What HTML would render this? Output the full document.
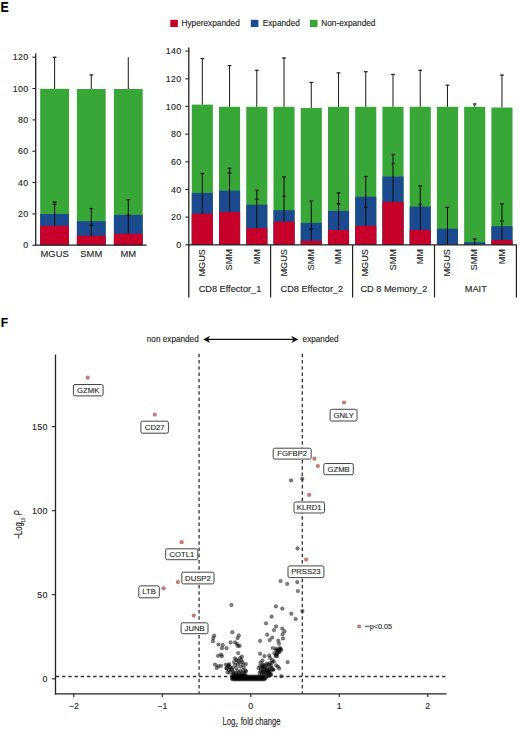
<!DOCTYPE html>
<html><head><meta charset="utf-8"><style>
html,body{margin:0;padding:0;background:#fff;}
svg{display:block;font-family:"Liberation Sans", sans-serif;}
text{stroke:#222;stroke-width:0.12px;}
</style></head><body>
<svg width="520" height="731" viewBox="0 0 520 731">
<rect width="520" height="731" fill="#fff"/>
<text transform="translate(0.55,11.85) scale(0.84,1)" font-size="14.7" font-weight="bold" fill="#000">E</text>
<rect x="170.3" y="19.8" width="7.6" height="7.2" fill="#c6002a"/>
<text x="181.5" y="26" font-size="8.25" fill="#222">Hyperexpanded</text>
<rect x="250.8" y="19.8" width="7.6" height="7.2" fill="#1b4a8f"/>
<text x="262.7" y="26" font-size="8.25" fill="#222">Expanded</text>
<rect x="309.9" y="19.8" width="7.6" height="7.2" fill="#39a638"/>
<text x="321.3" y="26" font-size="8.25" fill="#222">Non-expanded</text>
<rect x="40.20" y="88.8" width="28.8" height="156.40" fill="#39a638"/>
<rect x="40.20" y="214.0" width="28.8" height="31.20" fill="#1b4a8f"/>
<rect x="40.20" y="225.8" width="28.8" height="19.40" fill="#c6002a"/>
<line x1="54.6" y1="88.8" x2="54.6" y2="56.8" stroke="#222" stroke-width="1.05"/>
<line x1="52.70" y1="57.30" x2="56.50" y2="57.30" stroke="#222" stroke-width="1.2"/>
<line x1="54.6" y1="225.8" x2="54.6" y2="201.5" stroke="#111" stroke-width="1.05"/>
<line x1="52.70" y1="202.00" x2="56.50" y2="202.00" stroke="#111" stroke-width="1.2"/>
<line x1="52.70" y1="204.30" x2="56.50" y2="204.30" stroke="#111" stroke-width="1.2"/>
<rect x="76.90" y="89.0" width="28.8" height="156.20" fill="#39a638"/>
<rect x="76.90" y="221.2" width="28.8" height="24.00" fill="#1b4a8f"/>
<rect x="76.90" y="235.7" width="28.8" height="9.50" fill="#c6002a"/>
<line x1="91.3" y1="89.0" x2="91.3" y2="74.4" stroke="#222" stroke-width="1.05"/>
<line x1="89.40" y1="74.90" x2="93.20" y2="74.90" stroke="#222" stroke-width="1.2"/>
<line x1="91.3" y1="235.7" x2="91.3" y2="208.0" stroke="#111" stroke-width="1.05"/>
<line x1="89.40" y1="208.50" x2="93.20" y2="208.50" stroke="#111" stroke-width="1.2"/>
<line x1="89.40" y1="225.10" x2="93.20" y2="225.10" stroke="#111" stroke-width="1.2"/>
<rect x="113.90" y="89.0" width="28.8" height="156.20" fill="#39a638"/>
<rect x="113.90" y="214.9" width="28.8" height="30.30" fill="#1b4a8f"/>
<rect x="113.90" y="233.8" width="28.8" height="11.40" fill="#c6002a"/>
<line x1="128.3" y1="89.0" x2="128.3" y2="57.3" stroke="#222" stroke-width="1.05"/>
<line x1="128.3" y1="233.8" x2="128.3" y2="199.2" stroke="#111" stroke-width="1.05"/>
<line x1="126.40" y1="199.70" x2="130.20" y2="199.70" stroke="#111" stroke-width="1.2"/>
<line x1="126.40" y1="215.20" x2="130.20" y2="215.20" stroke="#111" stroke-width="1.2"/>
<line x1="35.7" y1="53.6" x2="35.7" y2="245.8" stroke="#222" stroke-width="1.3"/>
<line x1="35.1" y1="245.2" x2="146.6" y2="245.2" stroke="#222" stroke-width="1.3"/>
<line x1="32.4" y1="245.2" x2="35.7" y2="245.2" stroke="#222" stroke-width="1.1"/>
<text x="28.6" y="248.3" font-size="8.9" letter-spacing="0.35" fill="#222" text-anchor="end">0</text>
<line x1="32.4" y1="213.9" x2="35.7" y2="213.9" stroke="#222" stroke-width="1.1"/>
<text x="28.6" y="217.0" font-size="8.9" letter-spacing="0.35" fill="#222" text-anchor="end">20</text>
<line x1="32.4" y1="182.5" x2="35.7" y2="182.5" stroke="#222" stroke-width="1.1"/>
<text x="28.6" y="185.6" font-size="8.9" letter-spacing="0.35" fill="#222" text-anchor="end">40</text>
<line x1="32.4" y1="151.2" x2="35.7" y2="151.2" stroke="#222" stroke-width="1.1"/>
<text x="28.6" y="154.3" font-size="8.9" letter-spacing="0.35" fill="#222" text-anchor="end">60</text>
<line x1="32.4" y1="119.9" x2="35.7" y2="119.9" stroke="#222" stroke-width="1.1"/>
<text x="28.6" y="123.0" font-size="8.9" letter-spacing="0.35" fill="#222" text-anchor="end">80</text>
<line x1="32.4" y1="88.5" x2="35.7" y2="88.5" stroke="#222" stroke-width="1.1"/>
<text x="28.6" y="91.6" font-size="8.9" letter-spacing="0.35" fill="#222" text-anchor="end">100</text>
<line x1="32.4" y1="57.2" x2="35.7" y2="57.2" stroke="#222" stroke-width="1.1"/>
<text x="28.6" y="60.3" font-size="8.9" letter-spacing="0.35" fill="#222" text-anchor="end">120</text>
<text x="54.6" y="257.2" font-size="9.4" fill="#222" text-anchor="middle">MGUS</text>
<text x="91.3" y="257.2" font-size="9.4" fill="#222" text-anchor="middle">SMM</text>
<text x="128.3" y="257.2" font-size="9.4" fill="#222" text-anchor="middle">MM</text>
<rect x="191.76" y="104.6" width="21.1" height="140.20" fill="#39a638"/>
<rect x="191.76" y="192.9" width="21.1" height="51.90" fill="#1b4a8f"/>
<rect x="191.76" y="213.7" width="21.1" height="31.10" fill="#c6002a"/>
<line x1="202.31" y1="104.6" x2="202.31" y2="58.0" stroke="#222" stroke-width="1.05"/>
<line x1="200.41" y1="58.50" x2="204.21" y2="58.50" stroke="#222" stroke-width="1.2"/>
<line x1="202.31" y1="213.7" x2="202.31" y2="173.0" stroke="#111" stroke-width="1.05"/>
<line x1="200.41" y1="173.50" x2="204.21" y2="173.50" stroke="#111" stroke-width="1.2"/>
<rect x="219.00" y="106.8" width="21.1" height="138.00" fill="#39a638"/>
<rect x="219.00" y="190.7" width="21.1" height="54.10" fill="#1b4a8f"/>
<rect x="219.00" y="212.0" width="21.1" height="32.80" fill="#c6002a"/>
<line x1="229.55" y1="106.8" x2="229.55" y2="65.1" stroke="#222" stroke-width="1.05"/>
<line x1="227.65" y1="65.60" x2="231.45" y2="65.60" stroke="#222" stroke-width="1.2"/>
<line x1="229.55" y1="212.0" x2="229.55" y2="167.8" stroke="#111" stroke-width="1.05"/>
<line x1="227.65" y1="168.30" x2="231.45" y2="168.30" stroke="#111" stroke-width="1.2"/>
<line x1="227.65" y1="173.00" x2="231.45" y2="173.00" stroke="#111" stroke-width="1.2"/>
<rect x="246.24" y="106.8" width="21.1" height="138.00" fill="#39a638"/>
<rect x="246.24" y="204.7" width="21.1" height="40.10" fill="#1b4a8f"/>
<rect x="246.24" y="228.2" width="21.1" height="16.60" fill="#c6002a"/>
<line x1="256.79" y1="106.8" x2="256.79" y2="69.8" stroke="#222" stroke-width="1.05"/>
<line x1="254.89" y1="70.30" x2="258.69" y2="70.30" stroke="#222" stroke-width="1.2"/>
<line x1="256.79" y1="228.2" x2="256.79" y2="189.8" stroke="#111" stroke-width="1.05"/>
<line x1="254.89" y1="190.30" x2="258.69" y2="190.30" stroke="#111" stroke-width="1.2"/>
<line x1="254.89" y1="199.30" x2="258.69" y2="199.30" stroke="#111" stroke-width="1.2"/>
<rect x="273.48" y="106.8" width="21.1" height="138.00" fill="#39a638"/>
<rect x="273.48" y="210.2" width="21.1" height="34.60" fill="#1b4a8f"/>
<rect x="273.48" y="221.6" width="21.1" height="23.20" fill="#c6002a"/>
<line x1="284.03" y1="106.8" x2="284.03" y2="57.5" stroke="#222" stroke-width="1.05"/>
<line x1="282.13" y1="58.00" x2="285.93" y2="58.00" stroke="#222" stroke-width="1.2"/>
<line x1="284.03" y1="221.6" x2="284.03" y2="176.5" stroke="#111" stroke-width="1.05"/>
<line x1="282.13" y1="177.00" x2="285.93" y2="177.00" stroke="#111" stroke-width="1.2"/>
<line x1="282.13" y1="196.40" x2="285.93" y2="196.40" stroke="#111" stroke-width="1.2"/>
<rect x="300.72" y="108.0" width="21.1" height="136.80" fill="#39a638"/>
<rect x="300.72" y="222.9" width="21.1" height="21.90" fill="#1b4a8f"/>
<rect x="300.72" y="240.7" width="21.1" height="4.10" fill="#c6002a"/>
<line x1="311.27" y1="108.0" x2="311.27" y2="81.9" stroke="#222" stroke-width="1.05"/>
<line x1="309.37" y1="82.40" x2="313.17" y2="82.40" stroke="#222" stroke-width="1.2"/>
<line x1="311.27" y1="240.7" x2="311.27" y2="200.7" stroke="#111" stroke-width="1.05"/>
<line x1="309.37" y1="201.20" x2="313.17" y2="201.20" stroke="#111" stroke-width="1.2"/>
<line x1="309.37" y1="229.20" x2="313.17" y2="229.20" stroke="#111" stroke-width="1.2"/>
<rect x="327.96" y="106.8" width="21.1" height="138.00" fill="#39a638"/>
<rect x="327.96" y="210.9" width="21.1" height="33.90" fill="#1b4a8f"/>
<rect x="327.96" y="230.0" width="21.1" height="14.80" fill="#c6002a"/>
<line x1="338.51" y1="106.8" x2="338.51" y2="72.4" stroke="#222" stroke-width="1.05"/>
<line x1="336.61" y1="72.90" x2="340.41" y2="72.90" stroke="#222" stroke-width="1.2"/>
<line x1="338.51" y1="230.0" x2="338.51" y2="192.4" stroke="#111" stroke-width="1.05"/>
<line x1="336.61" y1="192.90" x2="340.41" y2="192.90" stroke="#111" stroke-width="1.2"/>
<line x1="336.61" y1="203.80" x2="340.41" y2="203.80" stroke="#111" stroke-width="1.2"/>
<rect x="355.20" y="106.8" width="21.1" height="138.00" fill="#39a638"/>
<rect x="355.20" y="196.7" width="21.1" height="48.10" fill="#1b4a8f"/>
<rect x="355.20" y="225.8" width="21.1" height="19.00" fill="#c6002a"/>
<line x1="365.75" y1="106.8" x2="365.75" y2="71.2" stroke="#222" stroke-width="1.05"/>
<line x1="363.85" y1="71.70" x2="367.65" y2="71.70" stroke="#222" stroke-width="1.2"/>
<line x1="365.75" y1="225.8" x2="365.75" y2="176.0" stroke="#111" stroke-width="1.05"/>
<line x1="363.85" y1="176.50" x2="367.65" y2="176.50" stroke="#111" stroke-width="1.2"/>
<line x1="363.85" y1="207.10" x2="367.65" y2="207.10" stroke="#111" stroke-width="1.2"/>
<rect x="382.44" y="106.8" width="21.1" height="138.00" fill="#39a638"/>
<rect x="382.44" y="176.5" width="21.1" height="68.30" fill="#1b4a8f"/>
<rect x="382.44" y="201.9" width="21.1" height="42.90" fill="#c6002a"/>
<line x1="392.99" y1="106.8" x2="392.99" y2="73.9" stroke="#222" stroke-width="1.05"/>
<line x1="391.09" y1="74.40" x2="394.89" y2="74.40" stroke="#222" stroke-width="1.2"/>
<line x1="392.99" y1="201.9" x2="392.99" y2="154.0" stroke="#111" stroke-width="1.05"/>
<line x1="391.09" y1="154.50" x2="394.89" y2="154.50" stroke="#111" stroke-width="1.2"/>
<line x1="391.09" y1="163.50" x2="394.89" y2="163.50" stroke="#111" stroke-width="1.2"/>
<rect x="409.68" y="106.8" width="21.1" height="138.00" fill="#39a638"/>
<rect x="409.68" y="206.6" width="21.1" height="38.20" fill="#1b4a8f"/>
<rect x="409.68" y="230.0" width="21.1" height="14.80" fill="#c6002a"/>
<line x1="420.23" y1="106.8" x2="420.23" y2="69.8" stroke="#222" stroke-width="1.05"/>
<line x1="418.33" y1="70.30" x2="422.13" y2="70.30" stroke="#222" stroke-width="1.2"/>
<line x1="420.23" y1="230.0" x2="420.23" y2="185.5" stroke="#111" stroke-width="1.05"/>
<line x1="418.33" y1="186.00" x2="422.13" y2="186.00" stroke="#111" stroke-width="1.2"/>
<line x1="418.33" y1="204.50" x2="422.13" y2="204.50" stroke="#111" stroke-width="1.2"/>
<rect x="436.92" y="106.8" width="21.1" height="138.00" fill="#39a638"/>
<rect x="436.92" y="228.7" width="21.1" height="16.10" fill="#1b4a8f"/>
<rect x="436.92" y="244.3" width="21.1" height="0.50" fill="#c6002a"/>
<line x1="447.47" y1="106.8" x2="447.47" y2="84.7" stroke="#222" stroke-width="1.05"/>
<line x1="445.57" y1="85.20" x2="449.37" y2="85.20" stroke="#222" stroke-width="1.2"/>
<line x1="447.47" y1="244.3" x2="447.47" y2="206.8" stroke="#111" stroke-width="1.05"/>
<line x1="445.57" y1="207.30" x2="449.37" y2="207.30" stroke="#111" stroke-width="1.2"/>
<rect x="464.16" y="106.8" width="21.1" height="138.00" fill="#39a638"/>
<rect x="464.16" y="242.2" width="21.1" height="2.60" fill="#1b4a8f"/>
<line x1="474.71" y1="106.8" x2="474.71" y2="103.5" stroke="#222" stroke-width="1.05"/>
<line x1="472.81" y1="104.00" x2="476.61" y2="104.00" stroke="#222" stroke-width="1.2"/>
<line x1="474.71" y1="244.8" x2="474.71" y2="238.3" stroke="#111" stroke-width="1.05"/>
<line x1="472.81" y1="238.80" x2="476.61" y2="238.80" stroke="#111" stroke-width="1.2"/>
<rect x="491.40" y="107.5" width="21.1" height="137.30" fill="#39a638"/>
<rect x="491.40" y="226.2" width="21.1" height="18.60" fill="#1b4a8f"/>
<rect x="491.40" y="240.1" width="21.1" height="4.70" fill="#c6002a"/>
<line x1="501.95" y1="107.5" x2="501.95" y2="74.6" stroke="#222" stroke-width="1.05"/>
<line x1="500.05" y1="75.10" x2="503.85" y2="75.10" stroke="#222" stroke-width="1.2"/>
<line x1="501.95" y1="240.1" x2="501.95" y2="203.3" stroke="#111" stroke-width="1.05"/>
<line x1="500.05" y1="203.80" x2="503.85" y2="203.80" stroke="#111" stroke-width="1.2"/>
<line x1="500.05" y1="221.10" x2="503.85" y2="221.10" stroke="#111" stroke-width="1.2"/>
<line x1="188.8" y1="47.6" x2="188.8" y2="297.4" stroke="#222" stroke-width="1.3"/>
<line x1="188.2" y1="244.8" x2="516.6" y2="244.8" stroke="#222" stroke-width="1.3"/>
<line x1="270.6" y1="244.8" x2="270.6" y2="297.4" stroke="#222" stroke-width="1.2"/>
<line x1="352.6" y1="244.8" x2="352.6" y2="297.4" stroke="#222" stroke-width="1.2"/>
<line x1="434.5" y1="244.8" x2="434.5" y2="297.4" stroke="#222" stroke-width="1.2"/>
<line x1="516.4" y1="244.8" x2="516.4" y2="297.4" stroke="#222" stroke-width="1.2"/>
<line x1="185.4" y1="244.8" x2="188.8" y2="244.8" stroke="#222" stroke-width="1.1"/>
<text x="181.6" y="247.9" font-size="8.9" letter-spacing="0.35" fill="#222" text-anchor="end">0</text>
<line x1="185.4" y1="217.1" x2="188.8" y2="217.1" stroke="#222" stroke-width="1.1"/>
<text x="181.6" y="220.2" font-size="8.9" letter-spacing="0.35" fill="#222" text-anchor="end">20</text>
<line x1="185.4" y1="189.5" x2="188.8" y2="189.5" stroke="#222" stroke-width="1.1"/>
<text x="181.6" y="192.6" font-size="8.9" letter-spacing="0.35" fill="#222" text-anchor="end">40</text>
<line x1="185.4" y1="161.8" x2="188.8" y2="161.8" stroke="#222" stroke-width="1.1"/>
<text x="181.6" y="164.9" font-size="8.9" letter-spacing="0.35" fill="#222" text-anchor="end">60</text>
<line x1="185.4" y1="134.1" x2="188.8" y2="134.1" stroke="#222" stroke-width="1.1"/>
<text x="181.6" y="137.2" font-size="8.9" letter-spacing="0.35" fill="#222" text-anchor="end">80</text>
<line x1="185.4" y1="106.4" x2="188.8" y2="106.4" stroke="#222" stroke-width="1.1"/>
<text x="181.6" y="109.5" font-size="8.9" letter-spacing="0.35" fill="#222" text-anchor="end">100</text>
<line x1="185.4" y1="78.8" x2="188.8" y2="78.8" stroke="#222" stroke-width="1.1"/>
<text x="181.6" y="81.9" font-size="8.9" letter-spacing="0.35" fill="#222" text-anchor="end">120</text>
<line x1="185.4" y1="51.1" x2="188.8" y2="51.1" stroke="#222" stroke-width="1.1"/>
<text x="181.6" y="54.2" font-size="8.9" letter-spacing="0.35" fill="#222" text-anchor="end">140</text>
<text transform="translate(205.0,249) rotate(-90)" x="0" y="0" font-size="9.2" fill="#222" text-anchor="end">MGUS</text>
<text transform="translate(232.2,249) rotate(-90)" x="0" y="0" font-size="9.2" fill="#222" text-anchor="end">SMM</text>
<text transform="translate(259.5,249) rotate(-90)" x="0" y="0" font-size="9.2" fill="#222" text-anchor="end">MM</text>
<text transform="translate(286.7,249) rotate(-90)" x="0" y="0" font-size="9.2" fill="#222" text-anchor="end">MGUS</text>
<text transform="translate(314.0,249) rotate(-90)" x="0" y="0" font-size="9.2" fill="#222" text-anchor="end">SMM</text>
<text transform="translate(341.2,249) rotate(-90)" x="0" y="0" font-size="9.2" fill="#222" text-anchor="end">MM</text>
<text transform="translate(368.4,249) rotate(-90)" x="0" y="0" font-size="9.2" fill="#222" text-anchor="end">MGUS</text>
<text transform="translate(395.7,249) rotate(-90)" x="0" y="0" font-size="9.2" fill="#222" text-anchor="end">SMM</text>
<text transform="translate(422.9,249) rotate(-90)" x="0" y="0" font-size="9.2" fill="#222" text-anchor="end">MM</text>
<text transform="translate(450.2,249) rotate(-90)" x="0" y="0" font-size="9.2" fill="#222" text-anchor="end">MGUS</text>
<text transform="translate(477.4,249) rotate(-90)" x="0" y="0" font-size="9.2" fill="#222" text-anchor="end">SMM</text>
<text transform="translate(504.6,249) rotate(-90)" x="0" y="0" font-size="9.2" fill="#222" text-anchor="end">MM</text>
<text x="230.0" y="292" font-size="9.2" fill="#222" text-anchor="middle">CD8 Effector_1</text>
<text x="311.9" y="292" font-size="9.2" fill="#222" text-anchor="middle">CD8 Effector_2</text>
<text x="393.9" y="292" font-size="9.2" fill="#222" text-anchor="middle">CD 8 Memory_2</text>
<text x="475.8" y="292" font-size="9.2" fill="#222" text-anchor="middle">MAIT</text>
<text transform="translate(0.65,327.1) scale(0.90,1)" font-size="13.6" font-weight="bold" fill="#000">F</text>
<text x="146.8" y="341.8" font-size="8.2" fill="#222">non expanded</text>
<text x="302.6" y="341.8" font-size="8.2" fill="#222">expanded</text>
<line x1="206" y1="339.4" x2="295" y2="339.4" stroke="#111" stroke-width="1.2"/>
<path d="M203.1 339.4 L210.2 335.8 L208.0 339.4 L210.2 343.0 Z" fill="#111"/>
<path d="M298.3 339.4 L291.2 335.8 L293.4 339.4 L291.2 343.0 Z" fill="#111"/>
<line x1="199.1" y1="353.8" x2="199.1" y2="693.5" stroke="#333" stroke-width="1.3" stroke-dasharray="3.5 2.75"/>
<line x1="302.3" y1="353.8" x2="302.3" y2="693.5" stroke="#333" stroke-width="1.3" stroke-dasharray="3.5 2.75"/>
<line x1="55.8" y1="676.5" x2="446.3" y2="676.5" stroke="#333" stroke-width="1.3" stroke-dasharray="3.4 2.83"/>
<circle cx="291.1" cy="480.4" r="1.85" fill="#000" fill-opacity="0.5" stroke="#000" stroke-opacity="0.35" stroke-width="0.6"/>
<circle cx="302.2" cy="478.7" r="1.85" fill="#000" fill-opacity="0.5" stroke="#000" stroke-opacity="0.35" stroke-width="0.6"/>
<circle cx="297.5" cy="548.4" r="1.85" fill="#000" fill-opacity="0.5" stroke="#000" stroke-opacity="0.35" stroke-width="0.6"/>
<circle cx="280.6" cy="581.0" r="1.85" fill="#000" fill-opacity="0.5" stroke="#000" stroke-opacity="0.35" stroke-width="0.6"/>
<circle cx="287.2" cy="583.8" r="1.85" fill="#000" fill-opacity="0.5" stroke="#000" stroke-opacity="0.35" stroke-width="0.6"/>
<circle cx="297.3" cy="582.1" r="1.85" fill="#000" fill-opacity="0.5" stroke="#000" stroke-opacity="0.35" stroke-width="0.6"/>
<circle cx="297.9" cy="591.0" r="1.85" fill="#000" fill-opacity="0.5" stroke="#000" stroke-opacity="0.35" stroke-width="0.6"/>
<circle cx="231.4" cy="604.9" r="1.85" fill="#000" fill-opacity="0.5" stroke="#000" stroke-opacity="0.35" stroke-width="0.6"/>
<circle cx="232.3" cy="632.2" r="1.85" fill="#000" fill-opacity="0.5" stroke="#000" stroke-opacity="0.35" stroke-width="0.6"/>
<circle cx="214.2" cy="635.7" r="1.85" fill="#000" fill-opacity="0.5" stroke="#000" stroke-opacity="0.35" stroke-width="0.6"/>
<circle cx="213.3" cy="638.1" r="1.85" fill="#000" fill-opacity="0.5" stroke="#000" stroke-opacity="0.35" stroke-width="0.6"/>
<circle cx="212.9" cy="641.2" r="1.85" fill="#000" fill-opacity="0.5" stroke="#000" stroke-opacity="0.35" stroke-width="0.6"/>
<circle cx="238.8" cy="635.4" r="1.85" fill="#000" fill-opacity="0.5" stroke="#000" stroke-opacity="0.35" stroke-width="0.6"/>
<circle cx="237.6" cy="638.1" r="1.85" fill="#000" fill-opacity="0.5" stroke="#000" stroke-opacity="0.35" stroke-width="0.6"/>
<circle cx="230.6" cy="642.4" r="1.85" fill="#000" fill-opacity="0.5" stroke="#000" stroke-opacity="0.35" stroke-width="0.6"/>
<circle cx="235.1" cy="642.4" r="1.85" fill="#000" fill-opacity="0.5" stroke="#000" stroke-opacity="0.35" stroke-width="0.6"/>
<circle cx="237.0" cy="644.0" r="1.85" fill="#000" fill-opacity="0.5" stroke="#000" stroke-opacity="0.35" stroke-width="0.6"/>
<circle cx="239.7" cy="645.8" r="1.85" fill="#000" fill-opacity="0.5" stroke="#000" stroke-opacity="0.35" stroke-width="0.6"/>
<circle cx="218.5" cy="644.5" r="1.85" fill="#000" fill-opacity="0.5" stroke="#000" stroke-opacity="0.35" stroke-width="0.6"/>
<circle cx="222.8" cy="644.9" r="1.85" fill="#000" fill-opacity="0.5" stroke="#000" stroke-opacity="0.35" stroke-width="0.6"/>
<circle cx="221.9" cy="648.2" r="1.85" fill="#000" fill-opacity="0.5" stroke="#000" stroke-opacity="0.35" stroke-width="0.6"/>
<circle cx="226.5" cy="648.2" r="1.85" fill="#000" fill-opacity="0.5" stroke="#000" stroke-opacity="0.35" stroke-width="0.6"/>
<circle cx="238.2" cy="653.1" r="1.85" fill="#000" fill-opacity="0.5" stroke="#000" stroke-opacity="0.35" stroke-width="0.6"/>
<circle cx="275.9" cy="606.3" r="1.85" fill="#000" fill-opacity="0.5" stroke="#000" stroke-opacity="0.35" stroke-width="0.6"/>
<circle cx="282.3" cy="608.6" r="1.85" fill="#000" fill-opacity="0.5" stroke="#000" stroke-opacity="0.35" stroke-width="0.6"/>
<circle cx="291.3" cy="613.7" r="1.85" fill="#000" fill-opacity="0.5" stroke="#000" stroke-opacity="0.35" stroke-width="0.6"/>
<circle cx="295.6" cy="619.0" r="1.85" fill="#000" fill-opacity="0.5" stroke="#000" stroke-opacity="0.35" stroke-width="0.6"/>
<circle cx="302.4" cy="611.0" r="1.85" fill="#000" fill-opacity="0.5" stroke="#000" stroke-opacity="0.35" stroke-width="0.6"/>
<circle cx="271.6" cy="616.6" r="1.85" fill="#000" fill-opacity="0.5" stroke="#000" stroke-opacity="0.35" stroke-width="0.6"/>
<circle cx="266.0" cy="623.3" r="1.85" fill="#000" fill-opacity="0.5" stroke="#000" stroke-opacity="0.35" stroke-width="0.6"/>
<circle cx="276.1" cy="626.4" r="1.85" fill="#000" fill-opacity="0.5" stroke="#000" stroke-opacity="0.35" stroke-width="0.6"/>
<circle cx="274.0" cy="630.1" r="1.85" fill="#000" fill-opacity="0.5" stroke="#000" stroke-opacity="0.35" stroke-width="0.6"/>
<circle cx="282.3" cy="628.5" r="1.85" fill="#000" fill-opacity="0.5" stroke="#000" stroke-opacity="0.35" stroke-width="0.6"/>
<circle cx="284.5" cy="631.3" r="1.85" fill="#000" fill-opacity="0.5" stroke="#000" stroke-opacity="0.35" stroke-width="0.6"/>
<circle cx="282.6" cy="634.2" r="1.85" fill="#000" fill-opacity="0.5" stroke="#000" stroke-opacity="0.35" stroke-width="0.6"/>
<circle cx="267.2" cy="634.7" r="1.85" fill="#000" fill-opacity="0.5" stroke="#000" stroke-opacity="0.35" stroke-width="0.6"/>
<circle cx="272.2" cy="637.5" r="1.85" fill="#000" fill-opacity="0.5" stroke="#000" stroke-opacity="0.35" stroke-width="0.6"/>
<circle cx="269.7" cy="640.0" r="1.85" fill="#000" fill-opacity="0.5" stroke="#000" stroke-opacity="0.35" stroke-width="0.6"/>
<circle cx="278.3" cy="640.6" r="1.85" fill="#000" fill-opacity="0.5" stroke="#000" stroke-opacity="0.35" stroke-width="0.6"/>
<circle cx="283.0" cy="638.4" r="1.85" fill="#000" fill-opacity="0.5" stroke="#000" stroke-opacity="0.35" stroke-width="0.6"/>
<circle cx="279.0" cy="643.7" r="1.85" fill="#000" fill-opacity="0.5" stroke="#000" stroke-opacity="0.35" stroke-width="0.6"/>
<circle cx="260.1" cy="640.8" r="1.85" fill="#000" fill-opacity="0.5" stroke="#000" stroke-opacity="0.35" stroke-width="0.6"/>
<circle cx="287.6" cy="662.1" r="1.85" fill="#000" fill-opacity="0.5" stroke="#000" stroke-opacity="0.35" stroke-width="0.6"/>
<circle cx="237.9" cy="645.9" r="1.85" fill="#000" fill-opacity="0.5" stroke="#000" stroke-opacity="0.35" stroke-width="0.6"/>
<circle cx="218.0" cy="655.8" r="1.85" fill="#000" fill-opacity="0.5" stroke="#000" stroke-opacity="0.35" stroke-width="0.6"/>
<circle cx="221.0" cy="654.5" r="1.85" fill="#000" fill-opacity="0.5" stroke="#000" stroke-opacity="0.35" stroke-width="0.6"/>
<circle cx="221.9" cy="656.2" r="1.85" fill="#000" fill-opacity="0.5" stroke="#000" stroke-opacity="0.35" stroke-width="0.6"/>
<circle cx="234.9" cy="658.4" r="1.85" fill="#000" fill-opacity="0.5" stroke="#000" stroke-opacity="0.35" stroke-width="0.6"/>
<circle cx="240.0" cy="658.0" r="1.85" fill="#000" fill-opacity="0.5" stroke="#000" stroke-opacity="0.35" stroke-width="0.6"/>
<circle cx="241.8" cy="656.7" r="1.85" fill="#000" fill-opacity="0.5" stroke="#000" stroke-opacity="0.35" stroke-width="0.6"/>
<circle cx="241.3" cy="660.1" r="1.85" fill="#000" fill-opacity="0.5" stroke="#000" stroke-opacity="0.35" stroke-width="0.6"/>
<circle cx="237.9" cy="660.6" r="1.85" fill="#000" fill-opacity="0.5" stroke="#000" stroke-opacity="0.35" stroke-width="0.6"/>
<circle cx="215.0" cy="664.5" r="1.85" fill="#000" fill-opacity="0.5" stroke="#000" stroke-opacity="0.35" stroke-width="0.6"/>
<circle cx="216.7" cy="667.9" r="1.85" fill="#000" fill-opacity="0.5" stroke="#000" stroke-opacity="0.35" stroke-width="0.6"/>
<circle cx="218.4" cy="666.2" r="1.85" fill="#000" fill-opacity="0.5" stroke="#000" stroke-opacity="0.35" stroke-width="0.6"/>
<circle cx="221.0" cy="665.8" r="1.85" fill="#000" fill-opacity="0.5" stroke="#000" stroke-opacity="0.35" stroke-width="0.6"/>
<circle cx="228.4" cy="665.3" r="1.85" fill="#000" fill-opacity="0.5" stroke="#000" stroke-opacity="0.35" stroke-width="0.6"/>
<circle cx="226.6" cy="667.9" r="1.85" fill="#000" fill-opacity="0.5" stroke="#000" stroke-opacity="0.35" stroke-width="0.6"/>
<circle cx="230.1" cy="667.1" r="1.85" fill="#000" fill-opacity="0.5" stroke="#000" stroke-opacity="0.35" stroke-width="0.6"/>
<circle cx="232.7" cy="667.5" r="1.85" fill="#000" fill-opacity="0.5" stroke="#000" stroke-opacity="0.35" stroke-width="0.6"/>
<circle cx="235.3" cy="664.9" r="1.85" fill="#000" fill-opacity="0.5" stroke="#000" stroke-opacity="0.35" stroke-width="0.6"/>
<circle cx="237.9" cy="664.0" r="1.85" fill="#000" fill-opacity="0.5" stroke="#000" stroke-opacity="0.35" stroke-width="0.6"/>
<circle cx="240.5" cy="666.6" r="1.85" fill="#000" fill-opacity="0.5" stroke="#000" stroke-opacity="0.35" stroke-width="0.6"/>
<circle cx="243.1" cy="664.5" r="1.85" fill="#000" fill-opacity="0.5" stroke="#000" stroke-opacity="0.35" stroke-width="0.6"/>
<circle cx="243.9" cy="667.5" r="1.85" fill="#000" fill-opacity="0.5" stroke="#000" stroke-opacity="0.35" stroke-width="0.6"/>
<circle cx="231.0" cy="669.2" r="1.85" fill="#000" fill-opacity="0.5" stroke="#000" stroke-opacity="0.35" stroke-width="0.6"/>
<circle cx="227.5" cy="672.3" r="1.85" fill="#000" fill-opacity="0.5" stroke="#000" stroke-opacity="0.35" stroke-width="0.6"/>
<circle cx="230.1" cy="672.7" r="1.85" fill="#000" fill-opacity="0.5" stroke="#000" stroke-opacity="0.35" stroke-width="0.6"/>
<circle cx="233.6" cy="671.8" r="1.85" fill="#000" fill-opacity="0.5" stroke="#000" stroke-opacity="0.35" stroke-width="0.6"/>
<circle cx="237.5" cy="671.0" r="1.85" fill="#000" fill-opacity="0.5" stroke="#000" stroke-opacity="0.35" stroke-width="0.6"/>
<circle cx="240.5" cy="671.0" r="1.85" fill="#000" fill-opacity="0.5" stroke="#000" stroke-opacity="0.35" stroke-width="0.6"/>
<circle cx="243.1" cy="670.5" r="1.85" fill="#000" fill-opacity="0.5" stroke="#000" stroke-opacity="0.35" stroke-width="0.6"/>
<circle cx="245.7" cy="671.0" r="1.85" fill="#000" fill-opacity="0.5" stroke="#000" stroke-opacity="0.35" stroke-width="0.6"/>
<circle cx="229.2" cy="664.0" r="1.85" fill="#000" fill-opacity="0.5" stroke="#000" stroke-opacity="0.35" stroke-width="0.6"/>
<circle cx="236.5" cy="668.0" r="1.85" fill="#000" fill-opacity="0.5" stroke="#000" stroke-opacity="0.35" stroke-width="0.6"/>
<circle cx="272.7" cy="648.0" r="1.85" fill="#000" fill-opacity="0.5" stroke="#000" stroke-opacity="0.35" stroke-width="0.6"/>
<circle cx="276.2" cy="648.5" r="1.85" fill="#000" fill-opacity="0.5" stroke="#000" stroke-opacity="0.35" stroke-width="0.6"/>
<circle cx="280.5" cy="648.9" r="1.85" fill="#000" fill-opacity="0.5" stroke="#000" stroke-opacity="0.35" stroke-width="0.6"/>
<circle cx="281.3" cy="649.8" r="1.85" fill="#000" fill-opacity="0.5" stroke="#000" stroke-opacity="0.35" stroke-width="0.6"/>
<circle cx="278.7" cy="651.1" r="1.85" fill="#000" fill-opacity="0.5" stroke="#000" stroke-opacity="0.35" stroke-width="0.6"/>
<circle cx="274.4" cy="653.2" r="1.85" fill="#000" fill-opacity="0.5" stroke="#000" stroke-opacity="0.35" stroke-width="0.6"/>
<circle cx="276.2" cy="654.5" r="1.85" fill="#000" fill-opacity="0.5" stroke="#000" stroke-opacity="0.35" stroke-width="0.6"/>
<circle cx="277.0" cy="656.2" r="1.85" fill="#000" fill-opacity="0.5" stroke="#000" stroke-opacity="0.35" stroke-width="0.6"/>
<circle cx="260.1" cy="653.7" r="1.85" fill="#000" fill-opacity="0.5" stroke="#000" stroke-opacity="0.35" stroke-width="0.6"/>
<circle cx="264.5" cy="656.1" r="1.85" fill="#000" fill-opacity="0.5" stroke="#000" stroke-opacity="0.35" stroke-width="0.6"/>
<circle cx="269.2" cy="655.4" r="1.85" fill="#000" fill-opacity="0.5" stroke="#000" stroke-opacity="0.35" stroke-width="0.6"/>
<circle cx="270.1" cy="658.0" r="1.85" fill="#000" fill-opacity="0.5" stroke="#000" stroke-opacity="0.35" stroke-width="0.6"/>
<circle cx="272.3" cy="660.1" r="1.85" fill="#000" fill-opacity="0.5" stroke="#000" stroke-opacity="0.35" stroke-width="0.6"/>
<circle cx="274.0" cy="661.4" r="1.85" fill="#000" fill-opacity="0.5" stroke="#000" stroke-opacity="0.35" stroke-width="0.6"/>
<circle cx="263.2" cy="664.5" r="1.85" fill="#000" fill-opacity="0.5" stroke="#000" stroke-opacity="0.35" stroke-width="0.6"/>
<circle cx="261.9" cy="666.2" r="1.85" fill="#000" fill-opacity="0.5" stroke="#000" stroke-opacity="0.35" stroke-width="0.6"/>
<circle cx="266.6" cy="663.6" r="1.85" fill="#000" fill-opacity="0.5" stroke="#000" stroke-opacity="0.35" stroke-width="0.6"/>
<circle cx="268.8" cy="664.5" r="1.85" fill="#000" fill-opacity="0.5" stroke="#000" stroke-opacity="0.35" stroke-width="0.6"/>
<circle cx="271.0" cy="665.8" r="1.85" fill="#000" fill-opacity="0.5" stroke="#000" stroke-opacity="0.35" stroke-width="0.6"/>
<circle cx="276.2" cy="665.3" r="1.85" fill="#000" fill-opacity="0.5" stroke="#000" stroke-opacity="0.35" stroke-width="0.6"/>
<circle cx="277.9" cy="666.6" r="1.85" fill="#000" fill-opacity="0.5" stroke="#000" stroke-opacity="0.35" stroke-width="0.6"/>
<circle cx="279.2" cy="668.4" r="1.85" fill="#000" fill-opacity="0.5" stroke="#000" stroke-opacity="0.35" stroke-width="0.6"/>
<circle cx="272.7" cy="669.7" r="1.85" fill="#000" fill-opacity="0.5" stroke="#000" stroke-opacity="0.35" stroke-width="0.6"/>
<circle cx="264.5" cy="668.4" r="1.85" fill="#000" fill-opacity="0.5" stroke="#000" stroke-opacity="0.35" stroke-width="0.6"/>
<circle cx="267.1" cy="667.9" r="1.85" fill="#000" fill-opacity="0.5" stroke="#000" stroke-opacity="0.35" stroke-width="0.6"/>
<circle cx="260.6" cy="671.0" r="1.85" fill="#000" fill-opacity="0.5" stroke="#000" stroke-opacity="0.35" stroke-width="0.6"/>
<circle cx="263.6" cy="671.8" r="1.85" fill="#000" fill-opacity="0.5" stroke="#000" stroke-opacity="0.35" stroke-width="0.6"/>
<circle cx="266.2" cy="671.0" r="1.85" fill="#000" fill-opacity="0.5" stroke="#000" stroke-opacity="0.35" stroke-width="0.6"/>
<circle cx="268.4" cy="670.5" r="1.85" fill="#000" fill-opacity="0.5" stroke="#000" stroke-opacity="0.35" stroke-width="0.6"/>
<circle cx="270.5" cy="672.7" r="1.85" fill="#000" fill-opacity="0.5" stroke="#000" stroke-opacity="0.35" stroke-width="0.6"/>
<circle cx="267.5" cy="673.6" r="1.85" fill="#000" fill-opacity="0.5" stroke="#000" stroke-opacity="0.35" stroke-width="0.6"/>
<circle cx="271.0" cy="674.9" r="1.85" fill="#000" fill-opacity="0.5" stroke="#000" stroke-opacity="0.35" stroke-width="0.6"/>
<circle cx="245.9" cy="671.0" r="1.85" fill="#000" fill-opacity="0.5" stroke="#000" stroke-opacity="0.35" stroke-width="0.6"/>
<circle cx="245.9" cy="664.0" r="1.85" fill="#000" fill-opacity="0.5" stroke="#000" stroke-opacity="0.35" stroke-width="0.6"/>
<circle cx="281.3" cy="676.2" r="1.85" fill="#000" fill-opacity="0.5" stroke="#000" stroke-opacity="0.35" stroke-width="0.6"/>
<circle cx="262.5" cy="660.5" r="1.85" fill="#000" fill-opacity="0.5" stroke="#000" stroke-opacity="0.35" stroke-width="0.6"/>
<circle cx="273.5" cy="669.5" r="1.85" fill="#000" fill-opacity="0.5" stroke="#000" stroke-opacity="0.35" stroke-width="0.6"/>
<circle cx="232.8" cy="675.0" r="1.85" fill="#000" fill-opacity="0.5" stroke="#000" stroke-opacity="0.35" stroke-width="0.6"/>
<circle cx="234.4" cy="675.0" r="1.85" fill="#000" fill-opacity="0.5" stroke="#000" stroke-opacity="0.35" stroke-width="0.6"/>
<circle cx="236.0" cy="675.0" r="1.85" fill="#000" fill-opacity="0.5" stroke="#000" stroke-opacity="0.35" stroke-width="0.6"/>
<circle cx="237.6" cy="675.0" r="1.85" fill="#000" fill-opacity="0.5" stroke="#000" stroke-opacity="0.35" stroke-width="0.6"/>
<circle cx="239.2" cy="675.0" r="1.85" fill="#000" fill-opacity="0.5" stroke="#000" stroke-opacity="0.35" stroke-width="0.6"/>
<circle cx="240.8" cy="675.0" r="1.85" fill="#000" fill-opacity="0.5" stroke="#000" stroke-opacity="0.35" stroke-width="0.6"/>
<circle cx="242.4" cy="675.0" r="1.85" fill="#000" fill-opacity="0.5" stroke="#000" stroke-opacity="0.35" stroke-width="0.6"/>
<circle cx="244.0" cy="675.0" r="1.85" fill="#000" fill-opacity="0.5" stroke="#000" stroke-opacity="0.35" stroke-width="0.6"/>
<circle cx="245.6" cy="675.0" r="1.85" fill="#000" fill-opacity="0.5" stroke="#000" stroke-opacity="0.35" stroke-width="0.6"/>
<circle cx="232.2" cy="676.6" r="1.85" fill="#000" fill-opacity="0.5" stroke="#000" stroke-opacity="0.35" stroke-width="0.6"/>
<circle cx="233.8" cy="676.6" r="1.85" fill="#000" fill-opacity="0.5" stroke="#000" stroke-opacity="0.35" stroke-width="0.6"/>
<circle cx="235.4" cy="676.6" r="1.85" fill="#000" fill-opacity="0.5" stroke="#000" stroke-opacity="0.35" stroke-width="0.6"/>
<circle cx="237.0" cy="676.6" r="1.85" fill="#000" fill-opacity="0.5" stroke="#000" stroke-opacity="0.35" stroke-width="0.6"/>
<circle cx="238.6" cy="676.6" r="1.85" fill="#000" fill-opacity="0.5" stroke="#000" stroke-opacity="0.35" stroke-width="0.6"/>
<circle cx="240.2" cy="676.6" r="1.85" fill="#000" fill-opacity="0.5" stroke="#000" stroke-opacity="0.35" stroke-width="0.6"/>
<circle cx="241.8" cy="676.6" r="1.85" fill="#000" fill-opacity="0.5" stroke="#000" stroke-opacity="0.35" stroke-width="0.6"/>
<circle cx="243.4" cy="676.6" r="1.85" fill="#000" fill-opacity="0.5" stroke="#000" stroke-opacity="0.35" stroke-width="0.6"/>
<circle cx="245.0" cy="676.6" r="1.85" fill="#000" fill-opacity="0.5" stroke="#000" stroke-opacity="0.35" stroke-width="0.6"/>
<circle cx="246.6" cy="676.6" r="1.85" fill="#000" fill-opacity="0.5" stroke="#000" stroke-opacity="0.35" stroke-width="0.6"/>
<circle cx="248.2" cy="676.6" r="1.85" fill="#000" fill-opacity="0.5" stroke="#000" stroke-opacity="0.35" stroke-width="0.6"/>
<circle cx="249.8" cy="676.6" r="1.85" fill="#000" fill-opacity="0.5" stroke="#000" stroke-opacity="0.35" stroke-width="0.6"/>
<circle cx="251.4" cy="676.6" r="1.85" fill="#000" fill-opacity="0.5" stroke="#000" stroke-opacity="0.35" stroke-width="0.6"/>
<circle cx="253.0" cy="676.6" r="1.85" fill="#000" fill-opacity="0.5" stroke="#000" stroke-opacity="0.35" stroke-width="0.6"/>
<circle cx="254.6" cy="676.6" r="1.85" fill="#000" fill-opacity="0.5" stroke="#000" stroke-opacity="0.35" stroke-width="0.6"/>
<circle cx="256.2" cy="676.6" r="1.85" fill="#000" fill-opacity="0.5" stroke="#000" stroke-opacity="0.35" stroke-width="0.6"/>
<circle cx="257.8" cy="676.6" r="1.85" fill="#000" fill-opacity="0.5" stroke="#000" stroke-opacity="0.35" stroke-width="0.6"/>
<circle cx="259.4" cy="676.6" r="1.85" fill="#000" fill-opacity="0.5" stroke="#000" stroke-opacity="0.35" stroke-width="0.6"/>
<circle cx="261.0" cy="676.6" r="1.85" fill="#000" fill-opacity="0.5" stroke="#000" stroke-opacity="0.35" stroke-width="0.6"/>
<circle cx="262.6" cy="676.6" r="1.85" fill="#000" fill-opacity="0.5" stroke="#000" stroke-opacity="0.35" stroke-width="0.6"/>
<circle cx="264.2" cy="676.6" r="1.85" fill="#000" fill-opacity="0.5" stroke="#000" stroke-opacity="0.35" stroke-width="0.6"/>
<circle cx="232.0" cy="678.1" r="1.85" fill="#000" fill-opacity="0.5" stroke="#000" stroke-opacity="0.35" stroke-width="0.6"/>
<circle cx="233.6" cy="678.1" r="1.85" fill="#000" fill-opacity="0.5" stroke="#000" stroke-opacity="0.35" stroke-width="0.6"/>
<circle cx="235.2" cy="678.1" r="1.85" fill="#000" fill-opacity="0.5" stroke="#000" stroke-opacity="0.35" stroke-width="0.6"/>
<circle cx="236.8" cy="678.1" r="1.85" fill="#000" fill-opacity="0.5" stroke="#000" stroke-opacity="0.35" stroke-width="0.6"/>
<circle cx="238.4" cy="678.1" r="1.85" fill="#000" fill-opacity="0.5" stroke="#000" stroke-opacity="0.35" stroke-width="0.6"/>
<circle cx="240.0" cy="678.1" r="1.85" fill="#000" fill-opacity="0.5" stroke="#000" stroke-opacity="0.35" stroke-width="0.6"/>
<circle cx="241.6" cy="678.1" r="1.85" fill="#000" fill-opacity="0.5" stroke="#000" stroke-opacity="0.35" stroke-width="0.6"/>
<circle cx="243.2" cy="678.1" r="1.85" fill="#000" fill-opacity="0.5" stroke="#000" stroke-opacity="0.35" stroke-width="0.6"/>
<circle cx="244.8" cy="678.1" r="1.85" fill="#000" fill-opacity="0.5" stroke="#000" stroke-opacity="0.35" stroke-width="0.6"/>
<circle cx="246.4" cy="678.1" r="1.85" fill="#000" fill-opacity="0.5" stroke="#000" stroke-opacity="0.35" stroke-width="0.6"/>
<circle cx="248.0" cy="678.1" r="1.85" fill="#000" fill-opacity="0.5" stroke="#000" stroke-opacity="0.35" stroke-width="0.6"/>
<circle cx="249.6" cy="678.1" r="1.85" fill="#000" fill-opacity="0.5" stroke="#000" stroke-opacity="0.35" stroke-width="0.6"/>
<circle cx="251.2" cy="678.1" r="1.85" fill="#000" fill-opacity="0.5" stroke="#000" stroke-opacity="0.35" stroke-width="0.6"/>
<circle cx="252.8" cy="678.1" r="1.85" fill="#000" fill-opacity="0.5" stroke="#000" stroke-opacity="0.35" stroke-width="0.6"/>
<circle cx="254.4" cy="678.1" r="1.85" fill="#000" fill-opacity="0.5" stroke="#000" stroke-opacity="0.35" stroke-width="0.6"/>
<circle cx="256.0" cy="678.1" r="1.85" fill="#000" fill-opacity="0.5" stroke="#000" stroke-opacity="0.35" stroke-width="0.6"/>
<circle cx="257.6" cy="678.1" r="1.85" fill="#000" fill-opacity="0.5" stroke="#000" stroke-opacity="0.35" stroke-width="0.6"/>
<circle cx="259.2" cy="678.1" r="1.85" fill="#000" fill-opacity="0.5" stroke="#000" stroke-opacity="0.35" stroke-width="0.6"/>
<circle cx="260.8" cy="678.1" r="1.85" fill="#000" fill-opacity="0.5" stroke="#000" stroke-opacity="0.35" stroke-width="0.6"/>
<circle cx="262.4" cy="678.1" r="1.85" fill="#000" fill-opacity="0.5" stroke="#000" stroke-opacity="0.35" stroke-width="0.6"/>
<circle cx="264.0" cy="678.1" r="1.85" fill="#000" fill-opacity="0.5" stroke="#000" stroke-opacity="0.35" stroke-width="0.6"/>
<circle cx="265.6" cy="678.1" r="1.85" fill="#000" fill-opacity="0.5" stroke="#000" stroke-opacity="0.35" stroke-width="0.6"/>
<circle cx="232.4" cy="679.3" r="1.85" fill="#000" fill-opacity="0.5" stroke="#000" stroke-opacity="0.35" stroke-width="0.6"/>
<circle cx="234.0" cy="679.3" r="1.85" fill="#000" fill-opacity="0.5" stroke="#000" stroke-opacity="0.35" stroke-width="0.6"/>
<circle cx="235.6" cy="679.3" r="1.85" fill="#000" fill-opacity="0.5" stroke="#000" stroke-opacity="0.35" stroke-width="0.6"/>
<circle cx="237.2" cy="679.3" r="1.85" fill="#000" fill-opacity="0.5" stroke="#000" stroke-opacity="0.35" stroke-width="0.6"/>
<circle cx="238.8" cy="679.3" r="1.85" fill="#000" fill-opacity="0.5" stroke="#000" stroke-opacity="0.35" stroke-width="0.6"/>
<circle cx="240.4" cy="679.3" r="1.85" fill="#000" fill-opacity="0.5" stroke="#000" stroke-opacity="0.35" stroke-width="0.6"/>
<circle cx="242.0" cy="679.3" r="1.85" fill="#000" fill-opacity="0.5" stroke="#000" stroke-opacity="0.35" stroke-width="0.6"/>
<circle cx="243.6" cy="679.3" r="1.85" fill="#000" fill-opacity="0.5" stroke="#000" stroke-opacity="0.35" stroke-width="0.6"/>
<circle cx="245.2" cy="679.3" r="1.85" fill="#000" fill-opacity="0.5" stroke="#000" stroke-opacity="0.35" stroke-width="0.6"/>
<circle cx="246.8" cy="679.3" r="1.85" fill="#000" fill-opacity="0.5" stroke="#000" stroke-opacity="0.35" stroke-width="0.6"/>
<circle cx="248.4" cy="679.3" r="1.85" fill="#000" fill-opacity="0.5" stroke="#000" stroke-opacity="0.35" stroke-width="0.6"/>
<circle cx="250.0" cy="679.3" r="1.85" fill="#000" fill-opacity="0.5" stroke="#000" stroke-opacity="0.35" stroke-width="0.6"/>
<circle cx="251.6" cy="679.3" r="1.85" fill="#000" fill-opacity="0.5" stroke="#000" stroke-opacity="0.35" stroke-width="0.6"/>
<circle cx="253.2" cy="679.3" r="1.85" fill="#000" fill-opacity="0.5" stroke="#000" stroke-opacity="0.35" stroke-width="0.6"/>
<circle cx="254.8" cy="679.3" r="1.85" fill="#000" fill-opacity="0.5" stroke="#000" stroke-opacity="0.35" stroke-width="0.6"/>
<circle cx="256.4" cy="679.3" r="1.85" fill="#000" fill-opacity="0.5" stroke="#000" stroke-opacity="0.35" stroke-width="0.6"/>
<circle cx="258.0" cy="679.3" r="1.85" fill="#000" fill-opacity="0.5" stroke="#000" stroke-opacity="0.35" stroke-width="0.6"/>
<circle cx="259.6" cy="679.3" r="1.85" fill="#000" fill-opacity="0.5" stroke="#000" stroke-opacity="0.35" stroke-width="0.6"/>
<circle cx="261.2" cy="679.3" r="1.85" fill="#000" fill-opacity="0.5" stroke="#000" stroke-opacity="0.35" stroke-width="0.6"/>
<circle cx="262.8" cy="679.3" r="1.85" fill="#000" fill-opacity="0.5" stroke="#000" stroke-opacity="0.35" stroke-width="0.6"/>
<circle cx="264.4" cy="679.3" r="1.85" fill="#000" fill-opacity="0.5" stroke="#000" stroke-opacity="0.35" stroke-width="0.6"/>
<circle cx="233.5" cy="673.0" r="1.85" fill="#000" fill-opacity="0.5" stroke="#000" stroke-opacity="0.35" stroke-width="0.6"/>
<circle cx="236.0" cy="673.4" r="1.85" fill="#000" fill-opacity="0.5" stroke="#000" stroke-opacity="0.35" stroke-width="0.6"/>
<circle cx="239.0" cy="672.8" r="1.85" fill="#000" fill-opacity="0.5" stroke="#000" stroke-opacity="0.35" stroke-width="0.6"/>
<circle cx="242.0" cy="673.4" r="1.85" fill="#000" fill-opacity="0.5" stroke="#000" stroke-opacity="0.35" stroke-width="0.6"/>
<circle cx="244.5" cy="673.0" r="1.85" fill="#000" fill-opacity="0.5" stroke="#000" stroke-opacity="0.35" stroke-width="0.6"/>
<circle cx="229.0" cy="670.2" r="1.85" fill="#000" fill-opacity="0.5" stroke="#000" stroke-opacity="0.35" stroke-width="0.6"/>
<circle cx="231.8" cy="669.6" r="1.85" fill="#000" fill-opacity="0.5" stroke="#000" stroke-opacity="0.35" stroke-width="0.6"/>
<circle cx="226.5" cy="668.6" r="1.85" fill="#000" fill-opacity="0.5" stroke="#000" stroke-opacity="0.35" stroke-width="0.6"/>
<circle cx="228.2" cy="666.0" r="1.85" fill="#000" fill-opacity="0.5" stroke="#000" stroke-opacity="0.35" stroke-width="0.6"/>
<circle cx="225.8" cy="664.6" r="1.85" fill="#000" fill-opacity="0.5" stroke="#000" stroke-opacity="0.35" stroke-width="0.6"/>
<circle cx="234.0" cy="662.0" r="1.85" fill="#000" fill-opacity="0.5" stroke="#000" stroke-opacity="0.35" stroke-width="0.6"/>
<circle cx="236.5" cy="660.0" r="1.85" fill="#000" fill-opacity="0.5" stroke="#000" stroke-opacity="0.35" stroke-width="0.6"/>
<circle cx="239.5" cy="662.5" r="1.85" fill="#000" fill-opacity="0.5" stroke="#000" stroke-opacity="0.35" stroke-width="0.6"/>
<circle cx="242.5" cy="662.0" r="1.85" fill="#000" fill-opacity="0.5" stroke="#000" stroke-opacity="0.35" stroke-width="0.6"/>
<circle cx="264.0" cy="672.2" r="1.85" fill="#000" fill-opacity="0.5" stroke="#000" stroke-opacity="0.35" stroke-width="0.6"/>
<circle cx="266.9" cy="669.9" r="1.85" fill="#000" fill-opacity="0.5" stroke="#000" stroke-opacity="0.35" stroke-width="0.6"/>
<circle cx="269.2" cy="672.2" r="1.85" fill="#000" fill-opacity="0.5" stroke="#000" stroke-opacity="0.35" stroke-width="0.6"/>
<circle cx="270.4" cy="674.5" r="1.85" fill="#000" fill-opacity="0.5" stroke="#000" stroke-opacity="0.35" stroke-width="0.6"/>
<circle cx="268.1" cy="676.2" r="1.85" fill="#000" fill-opacity="0.5" stroke="#000" stroke-opacity="0.35" stroke-width="0.6"/>
<circle cx="272.1" cy="669.3" r="1.85" fill="#000" fill-opacity="0.5" stroke="#000" stroke-opacity="0.35" stroke-width="0.6"/>
<circle cx="277.5" cy="650.5" r="1.85" fill="#000" fill-opacity="0.5" stroke="#000" stroke-opacity="0.35" stroke-width="0.6"/>
<circle cx="279.5" cy="652.0" r="1.85" fill="#000" fill-opacity="0.5" stroke="#000" stroke-opacity="0.35" stroke-width="0.6"/>
<circle cx="258.5" cy="668.0" r="1.85" fill="#000" fill-opacity="0.5" stroke="#000" stroke-opacity="0.35" stroke-width="0.6"/>
<circle cx="260.0" cy="666.0" r="1.85" fill="#000" fill-opacity="0.5" stroke="#000" stroke-opacity="0.35" stroke-width="0.6"/>
<circle cx="261.0" cy="669.0" r="1.85" fill="#000" fill-opacity="0.5" stroke="#000" stroke-opacity="0.35" stroke-width="0.6"/>
<circle cx="262.5" cy="667.5" r="1.85" fill="#000" fill-opacity="0.5" stroke="#000" stroke-opacity="0.35" stroke-width="0.6"/>
<circle cx="263.5" cy="665.5" r="1.85" fill="#000" fill-opacity="0.5" stroke="#000" stroke-opacity="0.35" stroke-width="0.6"/>
<circle cx="265.0" cy="667.0" r="1.85" fill="#000" fill-opacity="0.5" stroke="#000" stroke-opacity="0.35" stroke-width="0.6"/>
<circle cx="264.0" cy="669.5" r="1.85" fill="#000" fill-opacity="0.5" stroke="#000" stroke-opacity="0.35" stroke-width="0.6"/>
<circle cx="262.0" cy="672.0" r="1.85" fill="#000" fill-opacity="0.5" stroke="#000" stroke-opacity="0.35" stroke-width="0.6"/>
<circle cx="259.5" cy="673.0" r="1.85" fill="#000" fill-opacity="0.5" stroke="#000" stroke-opacity="0.35" stroke-width="0.6"/>
<circle cx="261.5" cy="674.5" r="1.85" fill="#000" fill-opacity="0.5" stroke="#000" stroke-opacity="0.35" stroke-width="0.6"/>
<circle cx="264.0" cy="675.0" r="1.85" fill="#000" fill-opacity="0.5" stroke="#000" stroke-opacity="0.35" stroke-width="0.6"/>
<circle cx="266.0" cy="673.5" r="1.85" fill="#000" fill-opacity="0.5" stroke="#000" stroke-opacity="0.35" stroke-width="0.6"/>
<circle cx="268.0" cy="671.0" r="1.85" fill="#000" fill-opacity="0.5" stroke="#000" stroke-opacity="0.35" stroke-width="0.6"/>
<circle cx="269.5" cy="669.0" r="1.85" fill="#000" fill-opacity="0.5" stroke="#000" stroke-opacity="0.35" stroke-width="0.6"/>
<circle cx="271.0" cy="667.0" r="1.85" fill="#000" fill-opacity="0.5" stroke="#000" stroke-opacity="0.35" stroke-width="0.6"/>
<circle cx="270.0" cy="663.0" r="1.85" fill="#000" fill-opacity="0.5" stroke="#000" stroke-opacity="0.35" stroke-width="0.6"/>
<circle cx="272.0" cy="662.5" r="1.85" fill="#000" fill-opacity="0.5" stroke="#000" stroke-opacity="0.35" stroke-width="0.6"/>
<circle cx="267.0" cy="665.0" r="1.85" fill="#000" fill-opacity="0.5" stroke="#000" stroke-opacity="0.35" stroke-width="0.6"/>
<circle cx="266.5" cy="676.5" r="1.85" fill="#000" fill-opacity="0.5" stroke="#000" stroke-opacity="0.35" stroke-width="0.6"/>
<circle cx="268.5" cy="674.0" r="1.85" fill="#000" fill-opacity="0.5" stroke="#000" stroke-opacity="0.35" stroke-width="0.6"/>
<circle cx="260.5" cy="662.5" r="1.85" fill="#000" fill-opacity="0.5" stroke="#000" stroke-opacity="0.35" stroke-width="0.6"/>
<circle cx="276.0" cy="650.0" r="1.85" fill="#000" fill-opacity="0.5" stroke="#000" stroke-opacity="0.35" stroke-width="0.6"/>
<circle cx="278.0" cy="652.5" r="1.85" fill="#000" fill-opacity="0.5" stroke="#000" stroke-opacity="0.35" stroke-width="0.6"/>
<circle cx="277.0" cy="654.0" r="1.85" fill="#000" fill-opacity="0.5" stroke="#000" stroke-opacity="0.35" stroke-width="0.6"/>
<circle cx="275.5" cy="656.0" r="1.85" fill="#000" fill-opacity="0.5" stroke="#000" stroke-opacity="0.35" stroke-width="0.6"/>
<circle cx="280.0" cy="648.0" r="1.85" fill="#000" fill-opacity="0.5" stroke="#000" stroke-opacity="0.35" stroke-width="0.6"/>
<circle cx="279.0" cy="649.5" r="1.85" fill="#000" fill-opacity="0.5" stroke="#000" stroke-opacity="0.35" stroke-width="0.6"/>
<circle cx="87.7" cy="377.7" r="2.1" fill="#c67a73"/>
<circle cx="154.8" cy="414.6" r="2.1" fill="#c67a73"/>
<circle cx="344.0" cy="402.5" r="2.1" fill="#c67a73"/>
<circle cx="314.4" cy="458.7" r="2.1" fill="#c67a73"/>
<circle cx="317.9" cy="466.0" r="2.1" fill="#c67a73"/>
<circle cx="309.2" cy="494.9" r="2.1" fill="#c67a73"/>
<circle cx="181.6" cy="542.2" r="2.1" fill="#c67a73"/>
<circle cx="177.9" cy="582.1" r="2.1" fill="#c67a73"/>
<circle cx="163.6" cy="588.3" r="2.1" fill="#c67a73"/>
<circle cx="193.8" cy="615.6" r="2.1" fill="#c67a73"/>
<circle cx="306.1" cy="559.6" r="2.1" fill="#c67a73"/>
<rect x="73.40" y="384.50" width="29.70" height="11.40" rx="1.6" fill="#fff" stroke="#444" stroke-width="1"/>
<text x="88.2" y="392.7" font-size="7.7" fill="#222" text-anchor="middle">GZMK</text>
<rect x="140.90" y="421.20" width="27.50" height="12.00" rx="1.6" fill="#fff" stroke="#444" stroke-width="1"/>
<text x="154.7" y="429.7" font-size="7.7" fill="#222" text-anchor="middle">CD27</text>
<rect x="330.10" y="409.30" width="26.90" height="11.70" rx="1.6" fill="#fff" stroke="#444" stroke-width="1"/>
<text x="343.6" y="417.6" font-size="7.7" fill="#222" text-anchor="middle">GNLY</text>
<rect x="273.20" y="448.20" width="38.00" height="10.90" rx="1.6" fill="#fff" stroke="#444" stroke-width="1"/>
<text x="292.2" y="456.1" font-size="7.7" fill="#222" text-anchor="middle">FGFBP2</text>
<rect x="323.80" y="463.50" width="29.50" height="11.20" rx="1.6" fill="#fff" stroke="#444" stroke-width="1"/>
<text x="338.6" y="471.6" font-size="7.7" fill="#222" text-anchor="middle">GZMB</text>
<rect x="294.00" y="502.00" width="30.50" height="11.00" rx="1.6" fill="#fff" stroke="#444" stroke-width="1"/>
<text x="309.2" y="510.0" font-size="7.7" fill="#222" text-anchor="middle">KLRD1</text>
<rect x="165.70" y="548.80" width="32.10" height="10.90" rx="1.6" fill="#fff" stroke="#444" stroke-width="1"/>
<text x="181.8" y="556.8" font-size="7.7" fill="#222" text-anchor="middle">COTL1</text>
<rect x="181.80" y="572.20" width="32.20" height="11.70" rx="1.6" fill="#fff" stroke="#444" stroke-width="1"/>
<text x="197.9" y="580.5" font-size="7.7" fill="#222" text-anchor="middle">DUSP2</text>
<rect x="138.80" y="585.90" width="20.50" height="11.90" rx="1.6" fill="#fff" stroke="#444" stroke-width="1"/>
<text x="149.1" y="594.3" font-size="7.7" fill="#222" text-anchor="middle">LTB</text>
<rect x="181.10" y="622.80" width="26.90" height="10.90" rx="1.6" fill="#fff" stroke="#444" stroke-width="1"/>
<text x="194.6" y="630.8" font-size="7.7" fill="#222" text-anchor="middle">JUNB</text>
<rect x="288.00" y="565.90" width="35.90" height="11.70" rx="1.6" fill="#fff" stroke="#444" stroke-width="1"/>
<text x="305.9" y="574.2" font-size="7.7" fill="#222" text-anchor="middle">PRSS23</text>
<circle cx="359.2" cy="626.5" r="2.1" fill="#c67a73"/>
<line x1="364.8" y1="626.4" x2="369.6" y2="626.4" stroke="#778" stroke-width="1.6"/>
<text x="369.8" y="628.7" font-size="7.2" fill="#222">p&lt;0.05</text>
<line x1="55.5" y1="354.4" x2="55.5" y2="694.4" stroke="#222" stroke-width="1.3"/>
<line x1="54.9" y1="693.8" x2="446.5" y2="693.8" stroke="#222" stroke-width="1.3"/>
<line x1="51.8" y1="678.8" x2="55.5" y2="678.8" stroke="#222" stroke-width="1.1"/>
<text x="47.8" y="681.9" font-size="8.9" letter-spacing="0.35" fill="#222" text-anchor="end">0</text>
<line x1="51.8" y1="594.7" x2="55.5" y2="594.7" stroke="#222" stroke-width="1.1"/>
<text x="47.8" y="597.8" font-size="8.9" letter-spacing="0.35" fill="#222" text-anchor="end">50</text>
<line x1="51.8" y1="510.7" x2="55.5" y2="510.7" stroke="#222" stroke-width="1.1"/>
<text x="47.8" y="513.8" font-size="8.9" letter-spacing="0.35" fill="#222" text-anchor="end">100</text>
<line x1="51.8" y1="426.6" x2="55.5" y2="426.6" stroke="#222" stroke-width="1.1"/>
<text x="47.8" y="429.7" font-size="8.9" letter-spacing="0.35" fill="#222" text-anchor="end">150</text>
<line x1="73.8" y1="693.8" x2="73.8" y2="697.0" stroke="#222" stroke-width="1.1"/>
<text x="73.8" y="708.7" font-size="8.8" fill="#222" text-anchor="middle">−2</text>
<line x1="162.3" y1="693.8" x2="162.3" y2="697.0" stroke="#222" stroke-width="1.1"/>
<text x="162.3" y="708.7" font-size="8.8" fill="#222" text-anchor="middle">−1</text>
<line x1="250.8" y1="693.8" x2="250.8" y2="697.0" stroke="#222" stroke-width="1.1"/>
<text x="250.8" y="708.7" font-size="8.8" fill="#222" text-anchor="middle">0</text>
<line x1="339.3" y1="693.8" x2="339.3" y2="697.0" stroke="#222" stroke-width="1.1"/>
<text x="339.3" y="708.7" font-size="8.8" fill="#222" text-anchor="middle">1</text>
<line x1="427.8" y1="693.8" x2="427.8" y2="697.0" stroke="#222" stroke-width="1.1"/>
<text x="427.8" y="708.7" font-size="8.8" fill="#222" text-anchor="middle">2</text>
<g transform="translate(222.4,724.5) scale(0.735,1)"><text x="0" y="0" font-size="10.5" fill="#222">Log<tspan font-size="6" dy="2.8">2</tspan><tspan dy="-2.8" dx="1.2"> fold change</tspan></text></g>
<g transform="translate(22.0,539.3) rotate(-90) scale(0.72,1)"><text x="0" y="0" font-size="10.4" fill="#222">−Log<tspan font-size="6" dy="3.2">10</tspan><tspan dy="-3.2" font-style="italic"> P</tspan></text></g>
</svg>
</body></html>
